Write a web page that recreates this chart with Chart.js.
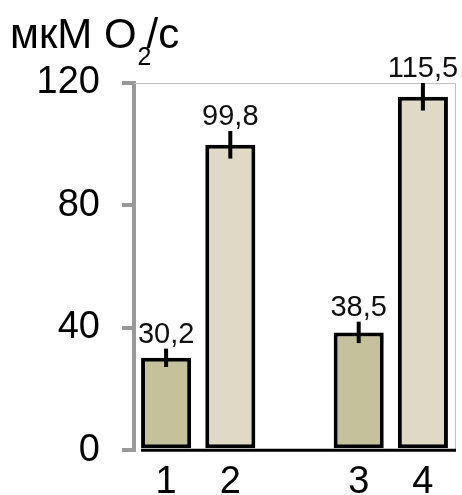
<!DOCTYPE html>
<html>
<head>
<meta charset="utf-8">
<script src="https://cdn.jsdelivr.net/npm/chart.js@4/dist/chart.umd.min.js"></script>
<style>
  html, body { margin: 0; padding: 0; background: #fff; }
  #wrap { position: relative; width: 462px; height: 495px; }
</style>
</head>
<body>
<div id="wrap"><canvas id="c" width="462" height="495"></canvas></div>
<script>
// Oxygen consumption rate, µM O2/s, for four samples (empty slot separates the pairs)
const categories = ['1', '2', '', '3', '4'];
const rates = [30.2, 99.8, null, 38.5, 115.5];
const errors = [3.0, 4.5, null, 3.5, 4.5];
const valueLabels = ['30,2', '99,8', '', '38,5', '115,5'];
const yTicks = [0, 40, 80, 120];

const FONT = "'Liberation Sans', Arial, sans-serif";

// Title, error bars, value labels, plot frame and baseline
const extras = {
  id: 'extras',
  afterDatasetsDraw(chart) {
    const ctx = chart.ctx;
    const y = chart.scales.y;
    const area = chart.chartArea;
    const meta = chart.getDatasetMeta(0);

    ctx.save();
    // light frame on top and right
    ctx.strokeStyle = '#c2c2c2';
    ctx.lineWidth = 1;
    ctx.beginPath();
    ctx.moveTo(area.left, area.top + 0.5);
    ctx.lineTo(area.right + 0.5, area.top + 0.5);
    ctx.lineTo(area.right + 0.5, area.bottom);
    ctx.stroke();

    // black baseline starting at the first bar
    const first = meta.data[0];
    ctx.strokeStyle = '#000';
    ctx.lineWidth = 3;
    ctx.beginPath();
    ctx.moveTo(first.x - first.width / 2, area.bottom);
    ctx.lineTo(area.right + 1, area.bottom);
    ctx.stroke();

    // error bars and labels
    meta.data.forEach((bar, i) => {
      const v = rates[i];
      if (v === null) return;
      const e = errors[i];
      const yTop = y.getPixelForValue(v + e);
      const yBot = y.getPixelForValue(v - e);
      ctx.strokeStyle = '#000';
      ctx.lineWidth = 4;
      ctx.beginPath();
      ctx.moveTo(bar.x, yTop);
      ctx.lineTo(bar.x, yBot);
      ctx.stroke();

      ctx.fillStyle = '#111';
      ctx.font = '29px ' + FONT;
      ctx.textAlign = 'center';
      ctx.textBaseline = 'alphabetic';
      ctx.fillText(valueLabels[i], bar.x, yTop - 6);
    });

    // axis unit title with subscript
    ctx.fillStyle = '#000';
    ctx.textAlign = 'left';
    ctx.textBaseline = 'alphabetic';
    ctx.font = '42px ' + FONT;
    const part1 = 'мкМ O';
    ctx.fillText(part1, 10, 48);
    let x = 10 + ctx.measureText(part1).width;
    ctx.font = '25px ' + FONT;
    ctx.fillText('2', x + 1, 65);
    x += ctx.measureText('2').width - 4;
    ctx.font = '42px ' + FONT;
    ctx.fillText('/с', x, 48);
    ctx.restore();
  }
};

new Chart(document.getElementById('c'), {
  type: 'bar',
  data: {
    labels: categories,
    datasets: [{
      data: rates,
      backgroundColor: ['#c5c29b', '#dfd9c5', '#c5c29b', '#c5c29b', '#dfd9c5'],
      borderColor: '#000',
      borderWidth: 4,
      borderSkipped: false,
      barPercentage: 0.78,
      categoryPercentage: 1.0
    }]
  },
  options: {
    responsive: false,
    animation: false,
    devicePixelRatio: 1,
    layout: { padding: { top: 83, right: 7, left: 0, bottom: 0 } },
    plugins: { legend: { display: false }, tooltip: { enabled: false } },
    scales: {
      x: {
        grid: { display: false },
        border: { display: false },
        ticks: { color: '#000', font: { size: 38, family: FONT }, padding: 2, maxRotation: 0 },
        afterFit(s) { s.height = 43; }
      },
      y: {
        min: 0,
        max: 120,
        afterBuildTicks(s) { s.ticks = yTicks.map(v => ({ value: v })); },
        grid: { display: true, drawOnChartArea: false, drawTicks: true, tickLength: 12, color: '#999', lineWidth: 4 },
        border: { display: true, color: '#999', width: 4 },
        ticks: { color: '#000', font: { size: 38, family: FONT }, padding: 22 },
        afterFit(s) { s.width = 134; }
      }
    }
  },
  plugins: [extras]
});
</script>
</body>
</html>
